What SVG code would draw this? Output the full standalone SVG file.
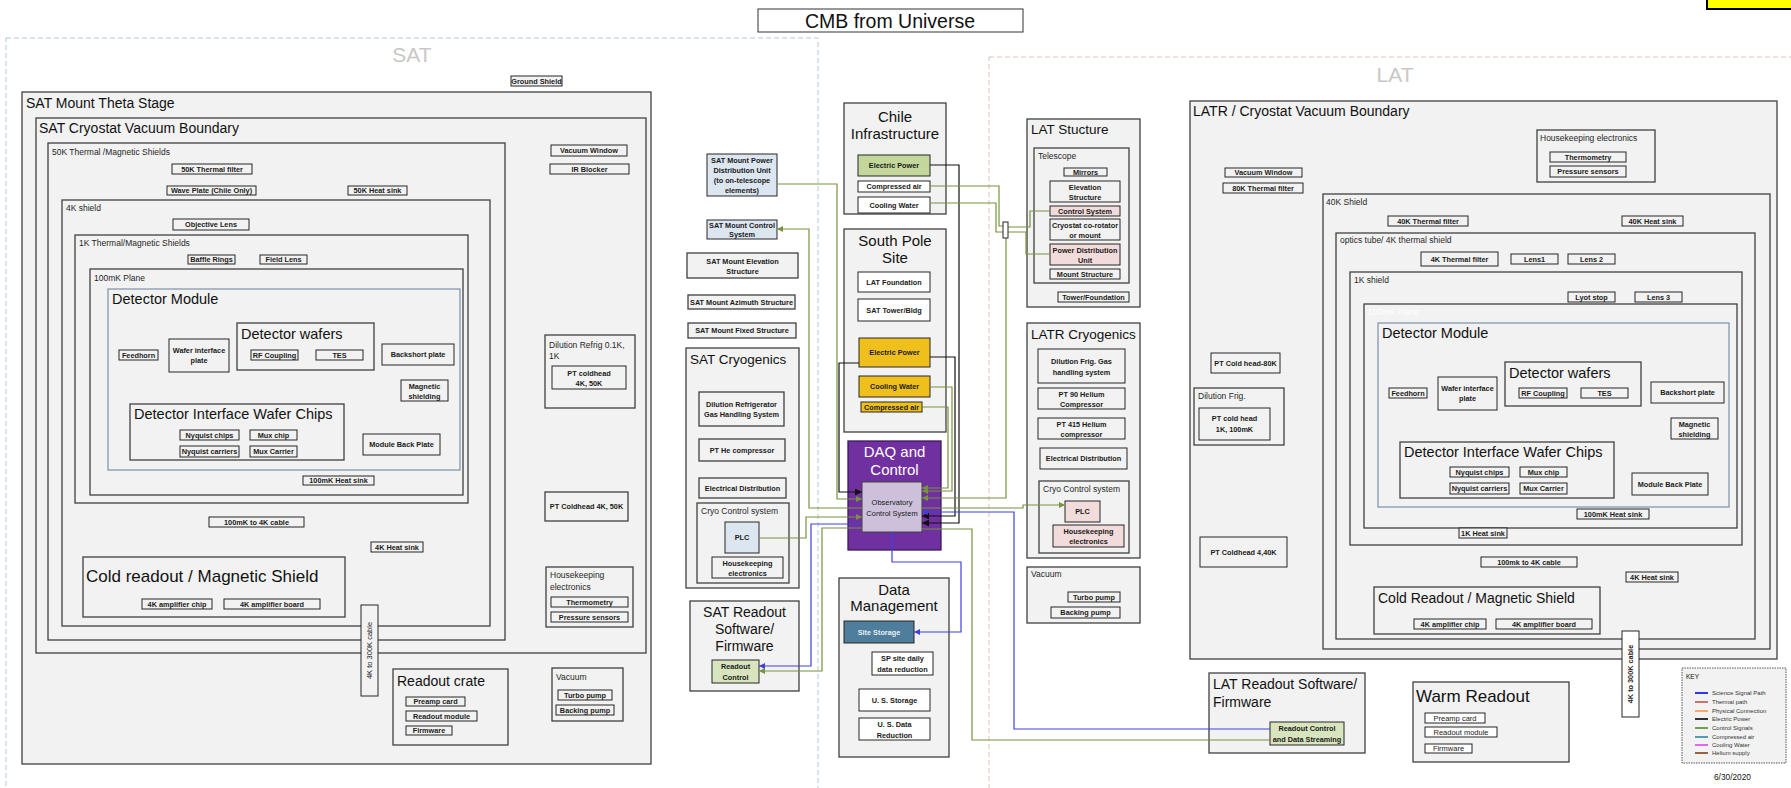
<svg xmlns="http://www.w3.org/2000/svg" width="1791" height="788" viewBox="0 0 1791 788">
<style>
text{font-family:"Liberation Sans",Arial,sans-serif;fill:#111}
.c{fill:#f2f2f2;stroke:#404040;stroke-width:1.3}
.dm{fill:#f2f2f2;stroke:#8497b0;stroke-width:1.3}
.b{fill:#f2f2f2;stroke:#262626;stroke-width:1}
.w{fill:#ffffff;stroke:#262626;stroke-width:1}
.lb{fill:#dce6f1;stroke:#262626;stroke-width:1}
.gr{fill:#d7e4bd;stroke:#262626;stroke-width:1}
.pk{fill:#f2dcdb;stroke:#262626;stroke-width:1}
.yl{fill:#efc01c;stroke:#262626;stroke-width:1}
.bl{font-size:7.3px;font-weight:bold;text-anchor:middle;fill:#1a1a1a}
.rl{font-size:7.5px;text-anchor:middle;fill:#1a1a1a}
.lab{font-size:8.5px;fill:#262626}
.zone{font-size:21px;fill:#c8c8c8;text-anchor:middle}
.mid{text-anchor:middle}
.g{fill:none;stroke:#77933c;stroke-width:1.2}
.bu{fill:none;stroke:#4040e0;stroke-width:1.2}
.k{fill:none;stroke:#111;stroke-width:1.2}
.key{font-size:6px;fill:#333}
</style>
<defs>
<marker id="mg" markerUnits="userSpaceOnUse" markerWidth="6" markerHeight="6" refX="6" refY="3" orient="auto"><path d="M0,0L6,3L0,6z" fill="#77933c"/></marker>
<marker id="mb" markerUnits="userSpaceOnUse" markerWidth="6" markerHeight="6" refX="6" refY="3" orient="auto"><path d="M0,0L6,3L0,6z" fill="#4040e0"/></marker>
<marker id="mk" markerUnits="userSpaceOnUse" markerWidth="7" markerHeight="7" refX="7" refY="3.5" orient="auto"><path d="M0,0L7,3.5L0,7z" fill="#111"/></marker>
</defs>
<rect width="1791" height="788" fill="#ffffff"/>

<!-- zones -->
<g id="zone-sat">
<rect x="6" y="38" width="812" height="770" fill="none" stroke="#b7c9d3" stroke-width="1" stroke-dasharray="5,3"/>
<text x="412" y="62" class="zone">SAT</text>
</g>
<g id="zone-lat">
<rect x="989" y="57" width="820" height="750" fill="none" stroke="#d9c3bb" stroke-width="1" stroke-dasharray="5,3"/>
<text x="1395" y="82" class="zone">LAT</text>
</g>

<g id="title">
<rect x="758" y="9" width="265" height="23" fill="#fff" stroke="#333" stroke-width="1"/>
<text x="890" y="27.5" class="mid" font-size="19.5">CMB from Universe</text>
</g>
<g id="yellow-tag"><rect x="1707" y="-4" width="95" height="13" fill="#ffff00" stroke="#000" stroke-width="2"/></g>

<!-- SAT -->
<g id="ground-shield"><rect x="511" y="76" width="51" height="10" class="b"/><text x="536.5" y="83.6" class="bl">Ground Shield</text></g>
<g id="sat-theta">
<rect x="22" y="92" width="629" height="672" class="c"/>
<text x="26" y="108" font-size="14">SAT Mount Theta Stage</text>
</g>
<g id="sat-cryostat">
<rect x="36" y="118" width="610" height="535" class="c"/>
<text x="39" y="133" font-size="14">SAT Cryostat Vacuum Boundary</text>
</g>
<g id="sat-50k">
<rect x="48" y="143" width="457" height="497" class="c"/>
<text x="52" y="155" class="lab">50K Thermal /Magnetic Shields</text>
</g>
<g id="sat-50k-filter"><rect x="172" y="164" width="80" height="10" class="b"/><text x="212" y="171.6" class="bl">50K Thermal filter</text></g>
<g id="sat-waveplate"><rect x="167" y="186" width="89" height="9" class="b"/><text x="211.5" y="193.1" class="bl">Wave Plate (Chile Only)</text></g>
<g id="sat-50k-heatsink"><rect x="348" y="186" width="59" height="9" class="b"/><text x="377.5" y="193.1" class="bl">50K Heat sink</text></g>
<g id="sat-4k">
<rect x="62" y="200" width="428" height="426" class="c"/>
<text x="66" y="211" class="lab">4K shield</text>
</g>
<g id="sat-objective"><rect x="173" y="219" width="76" height="11" class="b"/><text x="211" y="227.1" class="bl">Objective Lens</text></g>
<g id="sat-1k">
<rect x="75" y="235" width="393" height="268" class="c"/>
<text x="79" y="246" class="lab">1K Thermal/Magnetic Shields</text>
</g>
<g id="sat-baffle"><rect x="188" y="255" width="47" height="9" class="b"/><text x="211.5" y="262.1" class="bl">Baffle Rings</text></g>
<g id="sat-fieldlens"><rect x="260" y="255" width="47" height="9" class="b"/><text x="283.5" y="262.1" class="bl">Field Lens</text></g>
<g id="sat-100mk">
<rect x="90" y="269" width="373" height="226" class="c"/>
<text x="94" y="281" class="lab" fill="#555">100mK Plane</text>
</g>
<g id="sat-detmod">
<rect x="108" y="289" width="352" height="181" class="dm"/>
<text x="112" y="304" font-size="14.5">Detector Module</text>
</g>
<g id="sat-feedhorn"><rect x="119" y="350" width="39" height="10" class="b"/><text x="138.5" y="357.6" class="bl">Feedhorn</text></g>
<g id="sat-wafer-if"><rect x="169" y="339" width="60" height="33" class="b"/><text x="199" y="352.5" class="bl">Wafer interface</text><text x="199" y="363" class="bl">plate</text></g>
<g id="sat-detwafers">
<rect x="237" y="323" width="137" height="47" class="c"/>
<text x="241" y="339" font-size="14.5">Detector wafers</text>
</g>
<g id="sat-rf"><rect x="251" y="350" width="47" height="10" class="b"/><text x="274.5" y="357.6" class="bl">RF Coupling</text></g>
<g id="sat-tes"><rect x="316" y="350" width="47" height="10" class="b"/><text x="339.5" y="357.6" class="bl">TES</text></g>
<g id="sat-backshort"><rect x="382" y="344" width="72" height="21" class="b"/><text x="418" y="357.1" class="bl">Backshort plate</text></g>
<g id="sat-magshield"><rect x="401" y="380" width="47" height="21" class="b"/><text x="424.5" y="389" class="bl">Magnetic</text><text x="424.5" y="399" class="bl">shielding</text></g>
<g id="sat-diwc">
<rect x="130" y="404" width="214" height="56" class="c"/>
<text x="134" y="419" font-size="14.5">Detector Interface Wafer Chips</text>
</g>
<g id="sat-nyq-chips"><rect x="180" y="430" width="59" height="10" class="b"/><text x="209.5" y="437.6" class="bl">Nyquist chips</text></g>
<g id="sat-mux-chip"><rect x="250" y="430" width="47" height="10" class="b"/><text x="273.5" y="437.6" class="bl">Mux chip</text></g>
<g id="sat-nyq-carriers"><rect x="180" y="446" width="59" height="11" class="b"/><text x="209.5" y="454.1" class="bl">Nyquist carriers</text></g>
<g id="sat-mux-carrier"><rect x="250" y="446" width="47" height="11" class="b"/><text x="273.5" y="454.1" class="bl">Mux Carrier</text></g>
<g id="sat-backplate"><rect x="363" y="434" width="77" height="21" class="b"/><text x="401.5" y="447.1" class="bl">Module Back Plate</text></g>
<g id="sat-100mk-hs"><rect x="303" y="476" width="71" height="9" class="b"/><text x="338.5" y="483.1" class="bl">100mK Heat sink</text></g>
<g id="sat-100mk-cable"><rect x="209" y="517" width="95" height="10" class="b"/><text x="256.5" y="524.6" class="bl">100mK to 4K cable</text></g>
<g id="sat-4k-hs"><rect x="371" y="542" width="52" height="10" class="b"/><text x="397" y="549.6" class="bl">4K Heat sink</text></g>
<g id="sat-coldreadout">
<rect x="83" y="557" width="262" height="60" class="c"/>
<text x="86" y="582" font-size="17">Cold readout / Magnetic Shield</text>
</g>
<g id="sat-4k-amp-chip"><rect x="142" y="599" width="70" height="10" class="b"/><text x="177" y="606.6" class="bl">4K amplifier chip</text></g>
<g id="sat-4k-amp-board"><rect x="224" y="599" width="96" height="10" class="b"/><text x="272" y="606.6" class="bl">4K amplifier board</text></g>
<g id="sat-vacwin"><rect x="551" y="145" width="76" height="11" class="b"/><text x="589" y="153.1" class="bl">Vacuum Window</text></g>
<g id="sat-irblocker"><rect x="550" y="164" width="79" height="10" class="b"/><text x="589.5" y="171.6" class="bl">IR Blocker</text></g>
<g id="sat-dilution">
<rect x="545" y="335" width="90" height="73" class="c"/>
<text x="549" y="348" class="lab">Dilution Refrig 0.1K,</text>
<text x="549" y="359" class="lab">1K</text>
</g>
<g id="sat-ptcoldhead"><rect x="552" y="366" width="74" height="23" class="b"/><text x="589" y="375.5" class="bl">PT coldhead</text><text x="589" y="386" class="bl">4K, 50K</text></g>
<g id="sat-ptcoldhead2"><rect x="545" y="492" width="83" height="29" class="c"/><text x="586.5" y="509.1" class="bl">PT Coldhead 4K, 50K</text></g>
<g id="sat-housekeeping">
<rect x="546" y="567" width="87" height="60" class="c"/>
<text x="550" y="578" class="lab">Housekeeping</text>
<text x="550" y="590" class="lab">electronics</text>
</g>
<g id="sat-thermometry"><rect x="551" y="597" width="77" height="10" class="b"/><text x="589.5" y="604.6" class="bl">Thermometry</text></g>
<g id="sat-pressure"><rect x="551" y="612" width="77" height="10" class="b"/><text x="589.5" y="619.6" class="bl">Pressure sensors</text></g>
<g id="sat-cable-300k"><rect x="361" y="605" width="17" height="91" class="b"/><text transform="translate(372.2,650.5) rotate(-90)" class="rl">4K to 300K cable</text></g>
<g id="sat-readout-crate">
<rect x="393" y="669" width="115" height="76" class="c"/>
<text x="397" y="686" font-size="14">Readout crate</text>
</g>
<g id="sat-preamp"><rect x="406" y="697" width="59" height="9" class="b"/><text x="435.5" y="704.1" class="bl">Preamp card</text></g>
<g id="sat-readout-module"><rect x="406" y="711" width="71" height="10" class="b"/><text x="441.5" y="718.6" class="bl">Readout module</text></g>
<g id="sat-firmware"><rect x="406" y="726" width="46" height="9" class="b"/><text x="429" y="733.1" class="bl">Firmware</text></g>
<g id="sat-vacuum">
<rect x="552" y="668" width="71" height="53" class="c"/>
<text x="556" y="680" class="lab">Vacuum</text>
</g>
<g id="sat-turbo"><rect x="558" y="690" width="54" height="10" class="b"/><text x="585" y="697.6" class="bl">Turbo pump</text></g>
<g id="sat-backing"><rect x="556" y="705" width="58" height="10" class="b"/><text x="585" y="712.6" class="bl">Backing pump</text></g>

<!-- SAT mount column -->
<g id="sat-mount-pdu"><rect x="707" y="154" width="70" height="42" class="lb"/><text x="742" y="162.5" class="bl">SAT Mount Power</text><text x="742" y="172.5" class="bl">Distribution Unit</text><text x="742" y="182.5" class="bl">(to on-telescope</text><text x="742" y="192.5" class="bl">elements)</text></g>
<g id="sat-mount-control"><rect x="707" y="220" width="70" height="19" class="lb"/><text x="742" y="227.5" class="bl">SAT Mount Control</text><text x="742" y="237" class="bl">System</text></g>
<g id="sat-mount-elev"><rect x="687" y="253" width="111" height="25" class="c"/><text x="742.5" y="263.5" class="bl">SAT Mount Elevation</text><text x="742.5" y="274" class="bl">Structure</text></g>
<g id="sat-mount-az"><rect x="688" y="295" width="107" height="14" class="c"/><text x="741.5" y="304.6" class="bl">SAT Mount Azimuth Structure</text></g>
<g id="sat-mount-fixed"><rect x="688" y="323" width="108" height="15" class="c"/><text x="742" y="333.1" class="bl">SAT Mount Fixed Structure</text></g>
<g id="sat-cryogenics">
<rect x="686" y="348" width="113" height="240" class="c"/>
<text x="690" y="364" font-size="13.5">SAT Cryogenics</text>
</g>
<g id="sat-dr-ghs"><rect x="699" y="392" width="85" height="34" class="c"/><text x="741.5" y="406.5" class="bl">Dilution Refrigerator</text><text x="741.5" y="417" class="bl">Gas Handling System</text></g>
<g id="sat-pt-comp"><rect x="699" y="439" width="86" height="22" class="c"/><text x="742" y="452.6" class="bl">PT He compressor</text></g>
<g id="sat-elec-dist"><rect x="699" y="478" width="87" height="20" class="c"/><text x="742.5" y="490.6" class="bl">Electrical Distribution</text></g>
<g id="sat-cryo-control">
<rect x="697" y="503" width="92" height="80" class="c"/>
<text x="701" y="514" class="lab">Cryo Control system</text>
</g>
<g id="sat-plc"><rect x="725" y="522" width="34" height="31" class="lb"/><text x="742" y="540.1" class="bl">PLC</text></g>
<g id="sat-cryo-hk"><rect x="712" y="557" width="71" height="21" class="b"/><text x="747.5" y="565.5" class="bl">Housekeeping</text><text x="747.5" y="576" class="bl">electronics</text></g>
<g id="sat-readout-sw">
<rect x="690" y="601" width="109" height="90" class="c"/>
<text x="744.5" y="617" class="mid" font-size="14">SAT Readout</text>
<text x="744.5" y="634" class="mid" font-size="14">Software/</text>
<text x="744.5" y="651" class="mid" font-size="14">Firmware</text>
</g>
<g id="sat-readout-control"><rect x="712" y="660" width="47" height="23" class="gr"/><text x="735.5" y="669" class="bl">Readout</text><text x="735.5" y="680" class="bl">Control</text></g>

<!-- center column -->
<g id="chile">
<rect x="844" y="103" width="102" height="111" class="c"/>
<text x="895" y="122" class="mid" font-size="15">Chile</text>
<text x="895" y="139" class="mid" font-size="15">Infrastructure</text>
</g>
<g id="chile-power"><rect x="858" y="155" width="72" height="21" fill="#c3d69b" stroke="#262626" stroke-width="1"/><text x="894" y="168.1" class="bl">Electric Power</text></g>
<g id="chile-air"><rect x="858" y="181" width="72" height="11" class="w"/><text x="894" y="189.1" class="bl">Compressed air</text></g>
<g id="chile-water"><rect x="858" y="197" width="72" height="16" class="w"/><text x="894" y="207.6" class="bl">Cooling Water</text></g>
<g id="south-pole">
<rect x="844" y="229" width="102" height="203" class="c"/>
<text x="895" y="246" class="mid" font-size="15">South Pole</text>
<text x="895" y="263" class="mid" font-size="15">Site</text>
</g>
<g id="sp-lat-foundation"><rect x="858" y="272" width="72" height="20" class="w"/><text x="894" y="284.6" class="bl">LAT Foundation</text></g>
<g id="sp-sat-tower"><rect x="858" y="299" width="72" height="22" class="w"/><text x="894" y="312.6" class="bl">SAT Tower/Bldg</text></g>
<g id="sp-power"><rect x="859" y="338" width="71" height="29" class="yl"/><text x="894.5" y="355.1" class="bl">Electric Power</text></g>
<g id="sp-water"><rect x="859" y="376" width="71" height="21" class="yl"/><text x="894.5" y="389.1" class="bl">Cooling Water</text></g>
<g id="sp-air"><rect x="861" y="402" width="61" height="10" class="yl"/><text x="891.5" y="409.6" class="bl">Compressed air</text></g>
<g id="daq">
<rect x="848" y="441" width="93" height="109" fill="#7030a0" stroke="#3b1a5c" stroke-width="1.3"/>
<text x="894.5" y="457" class="mid" font-size="15" style="fill:#ffffff">DAQ and</text>
<text x="894.5" y="475" class="mid" font-size="15" style="fill:#ffffff">Control</text>
</g>
<g id="ocs"><rect x="862" y="482" width="60" height="50" fill="#ccc0da" stroke="#404040" stroke-width="1"/><text x="892" y="505" class="rl">Observatory</text><text x="892" y="516" class="rl">Control System</text></g>
<g id="data-mgmt">
<rect x="839" y="578" width="110" height="179" class="c"/>
<text x="894" y="595" class="mid" font-size="15">Data</text>
<text x="894" y="611" class="mid" font-size="15">Management</text>
</g>
<g id="site-storage"><rect x="844" y="621" width="70" height="22" fill="#4f7d9c" stroke="#262626" stroke-width="1"/><text x="879" y="634.6" class="bl" style="fill:#e6eef5">Site Storage</text></g>
<g id="sp-daily"><rect x="872" y="652" width="61" height="23" class="w"/><text x="902.5" y="661" class="bl">SP site daily</text><text x="902.5" y="671.5" class="bl">data reduction</text></g>
<g id="us-storage"><rect x="859" y="689" width="71" height="22" class="w"/><text x="894.5" y="702.6" class="bl">U. S. Storage</text></g>
<g id="us-reduction"><rect x="859" y="718" width="71" height="22" class="w"/><text x="894.5" y="727" class="bl">U. S. Data</text><text x="894.5" y="737.5" class="bl">Reduction</text></g>

<!-- LAT structure / cryogenics -->
<g id="lat-structure">
<rect x="1027" y="119" width="113" height="188" class="c"/>
<text x="1031" y="134" font-size="13.5">LAT Stucture</text>
</g>
<g id="lat-telescope">
<rect x="1034" y="148" width="95" height="135" class="c"/>
<text x="1038" y="159" class="lab">Telescope</text>
</g>
<g id="lat-mirrors"><rect x="1064" y="168" width="43" height="8" class="b"/><text x="1085.5" y="174.8" class="bl">Mirrors</text></g>
<g id="lat-elev"><rect x="1050" y="181" width="70" height="21" class="b"/><text x="1085" y="189.5" class="bl">Elevation</text><text x="1085" y="200" class="bl">Structure</text></g>
<g id="lat-control"><rect x="1050" y="206" width="70" height="10" class="pk"/><text x="1085" y="213.6" class="bl">Control System</text></g>
<g id="lat-corotator"><rect x="1050" y="219" width="70" height="21" class="b"/><text x="1085" y="227.5" class="bl">Cryostat co-rotator</text><text x="1085" y="238" class="bl">or mount</text></g>
<g id="lat-pdu"><rect x="1050" y="244" width="70" height="21" class="pk"/><text x="1085" y="252.5" class="bl">Power Distribution</text><text x="1085" y="263" class="bl">Unit</text></g>
<g id="lat-mount"><rect x="1050" y="269" width="70" height="10" class="b"/><text x="1085" y="276.6" class="bl">Mount Structure</text></g>
<g id="lat-tower"><rect x="1058" y="292" width="71" height="10" class="b"/><text x="1093.5" y="299.6" class="bl">Tower/Foundation</text></g>
<g id="latr-cryogenics">
<rect x="1027" y="323" width="113" height="235" class="c"/>
<text x="1031" y="339" font-size="13.5">LATR Cryogenics</text>
</g>
<g id="latr-dr-ghs"><rect x="1038" y="349" width="87" height="34" class="b"/><text x="1081.5" y="364" class="bl">Dilution Frig. Gas</text><text x="1081.5" y="375" class="bl">handling system</text></g>
<g id="latr-pt90"><rect x="1038" y="388" width="87" height="21" class="b"/><text x="1081.5" y="396.5" class="bl">PT 90 Helium</text><text x="1081.5" y="407" class="bl">Compressor</text></g>
<g id="latr-pt415"><rect x="1038" y="418" width="87" height="21" class="b"/><text x="1081.5" y="426.5" class="bl">PT 415 Helium</text><text x="1081.5" y="437" class="bl">compressor</text></g>
<g id="latr-elec"><rect x="1040" y="448" width="87" height="21" class="b"/><text x="1083.5" y="461.1" class="bl">Electrical Distribution</text></g>
<g id="latr-cryo-control">
<rect x="1039" y="481" width="90" height="72" class="c"/>
<text x="1043" y="492" class="lab">Cryo Control system</text>
</g>
<g id="latr-plc"><rect x="1065" y="501" width="35" height="21" class="pk"/><text x="1082.5" y="514.1" class="bl">PLC</text></g>
<g id="latr-hk"><rect x="1053" y="525" width="71" height="22" class="pk"/><text x="1088.5" y="533.5" class="bl">Housekeeping</text><text x="1088.5" y="544" class="bl">electronics</text></g>
<g id="lat-vacuum">
<rect x="1027" y="567" width="113" height="56" class="c"/>
<text x="1031" y="577" class="lab">Vacuum</text>
</g>
<g id="lat-turbo"><rect x="1068" y="592" width="52" height="10" class="b"/><text x="1094" y="599.6" class="bl">Turbo pump</text></g>
<g id="lat-backing"><rect x="1051" y="607" width="69" height="11" class="b"/><text x="1085.5" y="615.1" class="bl">Backing pump</text></g>

<!-- LATR cryostat -->
<g id="latr-cryostat">
<rect x="1190" y="101" width="587" height="558" class="c"/>
<text x="1193" y="116" font-size="14">LATR / Cryostat Vacuum Boundary</text>
</g>
<g id="latr-vacwin"><rect x="1225" y="168" width="77" height="9" class="b"/><text x="1263.5" y="175.1" class="bl">Vacuum Window</text></g>
<g id="latr-80k-filter"><rect x="1223" y="183" width="80" height="10" class="b"/><text x="1263" y="190.6" class="bl">80K Thermal filter</text></g>
<g id="latr-hk">
<rect x="1537" y="130" width="118" height="52" class="c"/>
<text x="1540" y="141" class="lab">Housekeeping electronics</text>
</g>
<g id="latr-thermometry"><rect x="1550" y="152" width="76" height="10" class="b"/><text x="1588" y="159.6" class="bl">Thermometry</text></g>
<g id="latr-pressure"><rect x="1550" y="166" width="76" height="11" class="b"/><text x="1588" y="174.1" class="bl">Pressure sensors</text></g>
<g id="latr-pt80"><rect x="1211" y="353" width="69" height="20" class="b"/><text x="1245.5" y="365.6" class="bl">PT Cold head-80K</text></g>
<g id="latr-dilution">
<rect x="1194" y="388" width="90" height="57" class="c"/>
<text x="1198" y="399" class="lab">Dilution Frig.</text>
</g>
<g id="latr-pt1k"><rect x="1199" y="408" width="71" height="32" class="b"/><text x="1234.5" y="421" class="bl">PT cold head</text><text x="1234.5" y="431.5" class="bl">1K, 100mK</text></g>
<g id="latr-pt440"><rect x="1200" y="537" width="87" height="30" class="b"/><text x="1243.5" y="554.6" class="bl">PT Coldhead 4,40K</text></g>
<g id="latr-40k">
<rect x="1323" y="194" width="447" height="455" class="c"/>
<text x="1326" y="205" class="lab">40K Shield</text>
</g>
<g id="latr-40k-filter"><rect x="1388" y="216" width="80" height="10" class="b"/><text x="1428" y="223.6" class="bl">40K Thermal filter</text></g>
<g id="latr-40k-hs"><rect x="1622" y="216" width="61" height="10" class="b"/><text x="1652.5" y="223.6" class="bl">40K Heat sink</text></g>
<g id="latr-optics">
<rect x="1336" y="233" width="419" height="406" class="c"/>
<text x="1340" y="243" class="lab">optics tube/ 4K thermal shield</text>
</g>
<g id="latr-4k-filter"><rect x="1421" y="252" width="77" height="14" class="b"/><text x="1459.5" y="261.6" class="bl">4K Thermal filter</text></g>
<g id="latr-lens1"><rect x="1511" y="254" width="47" height="10" class="b"/><text x="1534.5" y="261.6" class="bl">Lens1</text></g>
<g id="latr-lens2"><rect x="1568" y="254" width="47" height="10" class="b"/><text x="1591.5" y="261.6" class="bl">Lens 2</text></g>
<g id="latr-1k">
<rect x="1350" y="272" width="392" height="273" class="c"/>
<text x="1354" y="283" class="lab">1K shield</text>
</g>
<g id="latr-lyot"><rect x="1568" y="292" width="47" height="10" class="b"/><text x="1591.5" y="299.6" class="bl">Lyot stop</text></g>
<g id="latr-lens3"><rect x="1635" y="292" width="47" height="10" class="b"/><text x="1658.5" y="299.6" class="bl">Lens 3</text></g>
<g id="latr-100mk">
<rect x="1364" y="304" width="373" height="224" class="c"/>
<text x="1368" y="315" class="lab" style="fill:#ffffff">100mK Plane</text>
</g>
<g id="latr-detmod">
<rect x="1378" y="323" width="351" height="184" class="dm"/>
<text x="1382" y="338" font-size="14.5">Detector Module</text>
</g>
<g id="latr-feedhorn"><rect x="1389" y="388" width="38" height="10" class="b"/><text x="1408" y="395.6" class="bl">Feedhorn</text></g>
<g id="latr-wafer-if"><rect x="1438" y="377" width="59" height="33" class="b"/><text x="1467.5" y="390.5" class="bl">Wafer interface</text><text x="1467.5" y="401" class="bl">plate</text></g>
<g id="latr-detwafers">
<rect x="1505" y="362" width="136" height="44" class="c"/>
<text x="1509" y="378" font-size="14.5">Detector wafers</text>
</g>
<g id="latr-rf"><rect x="1519" y="388" width="48" height="10" class="b"/><text x="1543" y="395.6" class="bl">RF Coupling</text></g>
<g id="latr-tes"><rect x="1581" y="388" width="47" height="10" class="b"/><text x="1604.5" y="395.6" class="bl">TES</text></g>
<g id="latr-backshort"><rect x="1651" y="382" width="73" height="21" class="b"/><text x="1687.5" y="395.1" class="bl">Backshort plate</text></g>
<g id="latr-magshield"><rect x="1671" y="418" width="47" height="21" class="b"/><text x="1694.5" y="426.5" class="bl">Magnetic</text><text x="1694.5" y="437" class="bl">shielding</text></g>
<g id="latr-diwc">
<rect x="1400" y="442" width="214" height="56" class="c"/>
<text x="1404" y="457" font-size="14.5">Detector Interface Wafer Chips</text>
</g>
<g id="latr-nyq-chips"><rect x="1450" y="467" width="59" height="10" class="b"/><text x="1479.5" y="474.6" class="bl">Nyquist chips</text></g>
<g id="latr-mux-chip"><rect x="1520" y="467" width="47" height="10" class="b"/><text x="1543.5" y="474.6" class="bl">Mux chip</text></g>
<g id="latr-nyq-carriers"><rect x="1450" y="483" width="59" height="11" class="b"/><text x="1479.5" y="491.1" class="bl">Nyquist carriers</text></g>
<g id="latr-mux-carrier"><rect x="1520" y="483" width="47" height="11" class="b"/><text x="1543.5" y="491.1" class="bl">Mux Carrier</text></g>
<g id="latr-backplate"><rect x="1632" y="473" width="76" height="22" class="b"/><text x="1670" y="486.6" class="bl">Module Back Plate</text></g>
<g id="latr-100mk-hs"><rect x="1577" y="509" width="72" height="10" class="b"/><text x="1613" y="516.6" class="bl">100mK Heat sink</text></g>
<g id="latr-1k-hs"><rect x="1459" y="528" width="48" height="10" class="b"/><text x="1483" y="535.6" class="bl">1K Heat sink</text></g>
<g id="latr-cable"><rect x="1481" y="557" width="96" height="10" class="b"/><text x="1529" y="564.6" class="bl">100mk to 4K cable</text></g>
<g id="latr-4k-hs"><rect x="1626" y="572" width="52" height="10" class="b"/><text x="1652" y="579.6" class="bl">4K Heat sink</text></g>
<g id="latr-coldreadout">
<rect x="1374" y="587" width="226" height="47" class="c"/>
<text x="1378" y="603" font-size="14">Cold Readout / Magnetic Shield</text>
</g>
<g id="latr-amp-chip"><rect x="1414" y="619" width="72" height="10" class="b"/><text x="1450" y="626.6" class="bl">4K amplifier chip</text></g>
<g id="latr-amp-board"><rect x="1496" y="619" width="96" height="10" class="b"/><text x="1544" y="626.6" class="bl">4K amplifier board</text></g>
<g id="latr-cable-300k"><rect x="1622" y="631" width="17" height="86" class="w"/><text transform="translate(1633.2,674) rotate(-90)" class="bl">4K to 300K cable</text></g>

<g id="lat-readout-sw">
<rect x="1209" y="673" width="156" height="80" class="c"/>
<text x="1213" y="689" font-size="14">LAT Readout Software/</text>
<text x="1213" y="707" font-size="14">Firmware</text>
</g>
<g id="lat-readout-control"><rect x="1270" y="722" width="74" height="23" class="gr"/><text x="1307" y="731" class="bl">Readout Control</text><text x="1307" y="741.5" class="bl">and Data Streaming</text></g>
<g id="warm-readout">
<rect x="1413" y="682" width="156" height="80" class="c"/>
<text x="1416" y="702" font-size="17">Warm Readout</text>
</g>
<g id="warm-preamp"><rect x="1425" y="713" width="60" height="10" class="w"/><text x="1455" y="720.6" class="rl">Preamp card</text></g>
<g id="warm-module"><rect x="1425" y="727" width="72" height="10" class="w"/><text x="1461" y="734.6" class="rl">Readout module</text></g>
<g id="warm-firmware"><rect x="1425" y="744" width="47" height="9" class="w"/><text x="1448.5" y="751.1" class="rl">Firmware</text></g>

<g id="key">
<rect x="1682" y="668" width="104" height="95" fill="#f2f2f2" stroke="#555" stroke-width="1" stroke-dasharray="1.5,1"/>
<text x="1686" y="679" font-size="6.5" fill="#333">KEY</text>
<g stroke-width="1.6">
<line x1="1695" y1="693" x2="1708" y2="693" stroke="#0000ff"/>
<line x1="1695" y1="702" x2="1708" y2="702" stroke="#c0504d"/>
<line x1="1695" y1="711" x2="1708" y2="711" stroke="#f79646"/>
<line x1="1695" y1="719" x2="1708" y2="719" stroke="#000000"/>
<line x1="1695" y1="728" x2="1708" y2="728" stroke="#4f8a2a"/>
<line x1="1695" y1="737" x2="1708" y2="737" stroke="#31859c"/>
<line x1="1695" y1="745" x2="1708" y2="745" stroke="#e040fb"/>
<line x1="1695" y1="753" x2="1708" y2="753" stroke="#843c0c"/>
</g>
<text x="1712" y="695" class="key">Science Signal Path</text>
<text x="1712" y="704" class="key">Thermal path</text>
<text x="1712" y="713" class="key">Physical Connection</text>
<text x="1712" y="721" class="key">Electric Power</text>
<text x="1712" y="730" class="key">Control Signals</text>
<text x="1712" y="739" class="key">Compressed air</text>
<text x="1712" y="747" class="key">Cooling Water</text>
<text x="1712" y="755" class="key">Helium supply</text>
</g>
<g id="date"><text x="1714" y="780" font-size="8.3" fill="#333">6/30/2020</text></g>

<!-- connectors -->
<g id="connectors">
<path class="g" d="M777,184H837V499H862" marker-end="url(#mg)"/>
<path class="g" d="M862,508H809V229H777" marker-end="url(#mg)"/>
<path class="g" d="M759,538H806V517H862" marker-end="url(#mg)"/>
<path class="g" d="M862,528H822V671H759" marker-end="url(#mg)"/>
<path class="bu" d="M862,524H811V666H759" marker-end="url(#mb)"/>
<path class="k" d="M859,363H839V492H862" marker-end="url(#mk)"/>
<path class="k" d="M930,357H955V516H922" marker-end="url(#mk)"/>
<path class="k" d="M930,165H959V523H922" marker-end="url(#mk)"/>
<path class="g" d="M930,387H952V491H922" marker-end="url(#mg)"/>
<path class="g" d="M922,407H948V488H922" marker-end="url(#mg)"/>
<path class="g" d="M1006,238V498H922" marker-end="url(#mg)"/>
<path class="g" d="M922,508H1023V505H1065" marker-end="url(#mg)"/>
<path class="bu" d="M1270,729H1014V512H922" marker-end="url(#mb)"/>
<path class="g" d="M922,529H972V740H1270"/>
<path class="bu" d="M892,532V562H961V632H914" marker-end="url(#mb)"/>
<path class="g" d="M930,186H999V226H1003"/>
<path class="g" d="M930,203H996V232H1003"/>
<path class="g" d="M1008,227H1030V211H1050"/>
<path class="g" d="M1008,232H1026V254H1050"/>
<rect x="1003" y="222" width="5" height="16" fill="#fff" stroke="#262626" stroke-width="1"/>
</g>
</svg>
